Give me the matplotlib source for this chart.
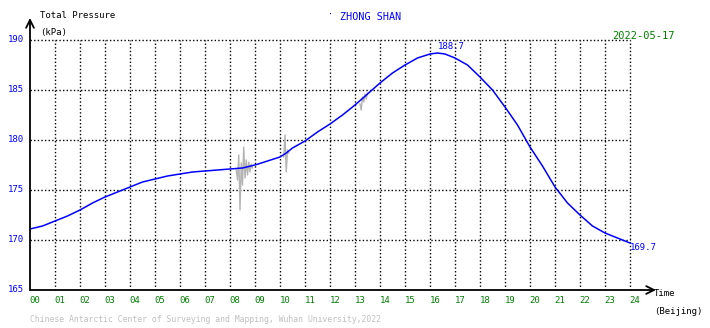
import numpy as np
import matplotlib
matplotlib.use("Agg")
import matplotlib.pyplot as plt

# readings taken off the chart (hour of day, kPa)
hours = [0, 0.5, 1, 1.5, 2, 2.5, 3, 3.5, 4, 4.5, 5, 5.5, 6, 6.5, 7, 7.5, 8,
         8.5, 9, 9.5, 10, 10.25, 10.5, 11, 11.5, 12, 12.5, 13, 13.5, 14,
         14.5, 15, 15.5, 16, 16.3, 16.6, 17, 17.5, 18, 18.5, 19, 19.5, 20,
         20.5, 21, 21.5, 22, 22.5, 23, 23.5, 24]
pressure = [171.1, 171.4, 171.9, 172.4, 173.0, 173.7, 174.3, 174.8, 175.3,
            175.8, 176.1, 176.4, 176.6, 176.8, 176.9, 177.0, 177.1,
            177.2, 177.5, 177.9, 178.3, 178.7, 179.2, 179.9, 180.8, 181.6,
            182.5, 183.5, 184.6, 185.7, 186.7, 187.5, 188.2, 188.6, 188.7,
            188.6, 188.2, 187.5, 186.3, 185.0, 183.3, 181.5, 179.3,
            177.4, 175.3, 173.7, 172.5, 171.4, 170.7, 170.2, 169.7]

# grey spikes (raw noisy samples)
noise_t = [8.25, 8.3, 8.35, 8.4, 8.45, 8.5, 8.55, 8.6, 8.65, 8.7, 8.75, 8.8,
           8.85, 8.9]
noise_p = [177.0, 176.0, 178.5, 173.0, 177.7, 175.5, 179.3, 176.2, 178.0,
           176.5, 177.8, 176.8, 177.6, 177.2]
noise2_t = [10.15, 10.2, 10.25, 10.3, 10.35]
noise2_p = [178.3, 180.5, 176.8, 179.0, 178.7]
noise3_t = [13.2, 13.25, 13.3, 13.35, 13.4, 13.45, 13.5]
noise3_p = [183.6, 183.0, 184.3, 183.8, 184.6, 184.1, 184.7]

hour_labels = ["%02d" % h for h in range(25)]
y_ticks = [165, 170, 175, 180, 185, 190]

W, H = 710, 328
fig = plt.figure(figsize=(W / 100, H / 100), dpi=100)
fig.patch.set_facecolor("white")

def px(x, y):
    return x / W, 1 - y / H

# axes: hour 0 at px 30, 25 px per hour; 190 at px 40, 10 px per kPa
left, right = 30, 656
top, bottom = 18, 290
ax = fig.add_axes([left / W, (H - bottom) / H, (right - left) / W, (bottom - top) / H])
ax.set_xlim(0, (right - left) / 25)
ax.set_ylim(165, 190 + (40 - top) / 10)
for s in ax.spines.values():
    s.set_visible(False)
ax.set_xticks([])
ax.set_yticks([])

mono = "DejaVu Sans Mono"

# grid
ax.vlines(range(1, 25), 165, 190, colors="black", linestyles=(0, (1, 1.6)), lw=1)
ax.hlines(y_ticks[1:], 0, 24, colors="black", linestyles=(0, (1, 1.6)), lw=1)

# axes with arrows
ax.annotate("", xy=(1, 0), xytext=(0, 0), xycoords="axes fraction",
            arrowprops=dict(arrowstyle="->", lw=1.3, color="black",
                            shrinkA=0, shrinkB=0, mutation_scale=14))
ax.annotate("", xy=(0, 1), xytext=(0, 0), xycoords="axes fraction",
            arrowprops=dict(arrowstyle="->", lw=1.3, color="black",
                            shrinkA=0, shrinkB=0, mutation_scale=14))

# data
ax.plot(noise_t, noise_p, color="#b4b4b4", lw=1)
ax.plot(noise2_t, noise2_p, color="#b4b4b4", lw=1)
ax.plot(noise3_t, noise3_p, color="#b4b4b4", lw=1)
ax.plot(hours, pressure, color="#0000ff", lw=1.1)

ax.text(16.85, 188.7 + 0.25, "188.7", color="#0000ff", fontsize=6.5,
        family=mono, ha="center", va="bottom")
ax.text(24.0, 169.7 - 0.4, "169.7", color="#0000ff", fontsize=6.5,
        family=mono, ha="left", va="center")

for v in y_ticks:
    ax.text(-0.25, v, str(v), color="#0000ff", fontsize=6.5, family=mono,
            ha="right", va="center")
for h, lab in enumerate(hour_labels):
    ax.text(h + 0.2, 165 - 1.05, lab, color="#008000", fontsize=6.5,
            family=mono, ha="center", va="center")

fig.text(*px(40, 16), "Total Pressure", fontsize=6.5, family=mono, va="center")
fig.text(*px(40, 33), "(kPa)", fontsize=6.5, family=mono, va="center")
fig.text(*px(340, 17), "ZHONG SHAN", fontsize=7.3, family=mono,
         color="#0000ff", va="center")
fig.text(*px(330, 15), "·", fontsize=6, family=mono, color="#0000ff",
         va="center", ha="center")
fig.text(*px(612, 36), "2022-05-17", fontsize=7.5, family=mono,
         color="#008000", va="center")
fig.text(*px(654, 294), "Time", fontsize=6.5, family=mono, va="center")
fig.text(*px(654, 311), "(Beijing)", fontsize=6.5, family=mono, va="center")
fig.text(*px(30, 320), "Chinese Antarctic Center of Surveying and Mapping, Wuhan University,2022",
         fontsize=5.9, family=mono, color="#c0c0c0", va="center")

fig.savefig("out.png", dpi=100)
